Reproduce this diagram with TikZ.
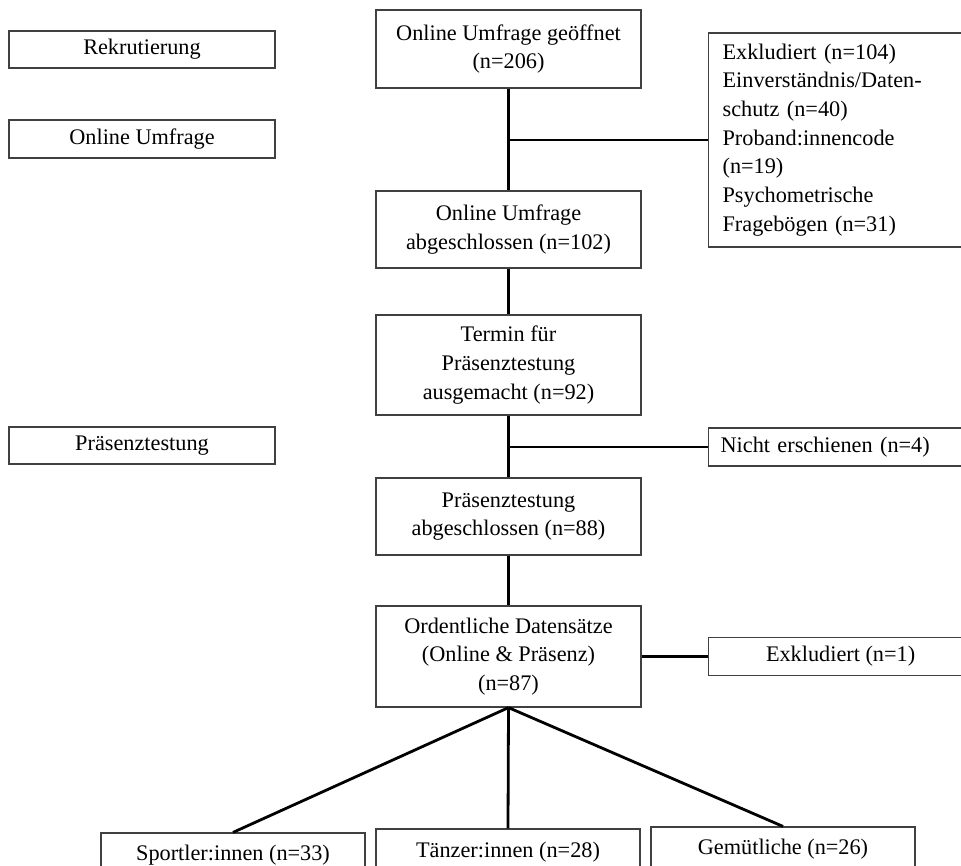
\documentclass[tikz,border=0pt]{standalone}
\usepackage{fontspec}
\setmainfont{Liberation Serif}
\definecolor{boxline}{HTML}{404040}
\tikzset{
  px/.style={x=0.75pt,y=-0.75pt},
  fbox/.style={draw=boxline, line width=0.9pt, fill=white, inner sep=0pt, align=center,
    font=\fontsize{16.7}{21.5}\selectfont},
  conn/.style={line width=2.1pt, black}
}
\begin{document}
\begin{tikzpicture}[px]
\clip (0,0) rectangle (961,865);
\fill[white] (0,0) rectangle (961,865);
% left phase labels
\node[fbox, minimum width=266*0.75pt, minimum height=37*0.75pt] (rek) at (142,49.5) {Rekrutierung};
\node[fbox, minimum width=266*0.75pt, minimum height=38*0.75pt] (onl) at (142,139) {Online Umfrage};
\node[fbox, minimum width=266*0.75pt, minimum height=37*0.75pt] (pra) at (142,445.5) {Präsenztestung};
% main column
\node[fbox, minimum width=265*0.75pt, minimum height=78*0.75pt] (b1) at (508.5,49) {Online Umfrage geöffnet\\(n=206)};
\node[fbox, minimum width=265*0.75pt, minimum height=77*0.75pt] (b2) at (508.5,229.5) {Online Umfrage\\abgeschlossen (n=102)};
\node[fbox, minimum width=265*0.75pt, minimum height=100*0.75pt] (b3) at (508.5,365) {Termin für\\Präsenztestung\\ausgemacht (n=92)};
\node[fbox, minimum width=265*0.75pt, minimum height=77*0.75pt] (b4) at (508.5,516.5) {Präsenztestung\\abgeschlossen (n=88)};
\node[fbox, minimum width=265*0.75pt, minimum height=101*0.75pt] (b5) at (508.5,656.5) {Ordentliche Datensätze\\(Online \& Präsenz)\\(n=87)};
% right exclusion boxes
\node[fbox, align=left, anchor=west, text width=239*0.75pt, inner xsep=14*0.75pt, minimum height=214*0.75pt] (ex1) at (708,140)
  {Exkludiert (n=104)\\Einverständnis/Daten-\\schutz (n=40)\\Proband:innencode\\(n=19)\\Psychometrische\\Fragebögen (n=31)};
\node[fbox, align=left, anchor=west, text width=243*0.75pt, inner xsep=12*0.75pt, minimum height=38*0.75pt] (nic) at (708,447)
  {Nicht erschienen (n=4)};
\node[fbox, anchor=west, minimum width=264*0.75pt, minimum height=38*0.75pt] (ex2) at (708,656.5) {Exkludiert (n=1)};
% groups
\node[fbox, minimum width=264*0.75pt, minimum height=44*0.75pt] (sp) at (233,855) {Sportler:innen (n=33)};
\node[fbox, minimum width=264*0.75pt, minimum height=46*0.75pt] (ta) at (508,852) {Tänzer:innen (n=28)};
\node[fbox, minimum width=264*0.75pt, minimum height=44*0.75pt] (ge) at (783,849) {Gemütliche (n=26)};
% connectors
\draw[conn] (b1.south) -- (b2.north);
\draw[conn] (b1.south |- ex1.west) -- (ex1.west);
\draw[conn] (b2.south) -- (b3.north);
\draw[conn] (b3.south) -- (b4.north);
\draw[conn] (b3.south |- nic.west) -- (nic.west);
\draw[conn] (b4.south) -- (b5.north);
\draw[conn] (b5.east) -- (ex2.west);
\draw[conn] (b5.south) -- (sp.north);
\draw[conn] (b5.south) -- (ta.north);
\draw[conn] (b5.south) -- (ge.north);
\end{tikzpicture}
\end{document}
